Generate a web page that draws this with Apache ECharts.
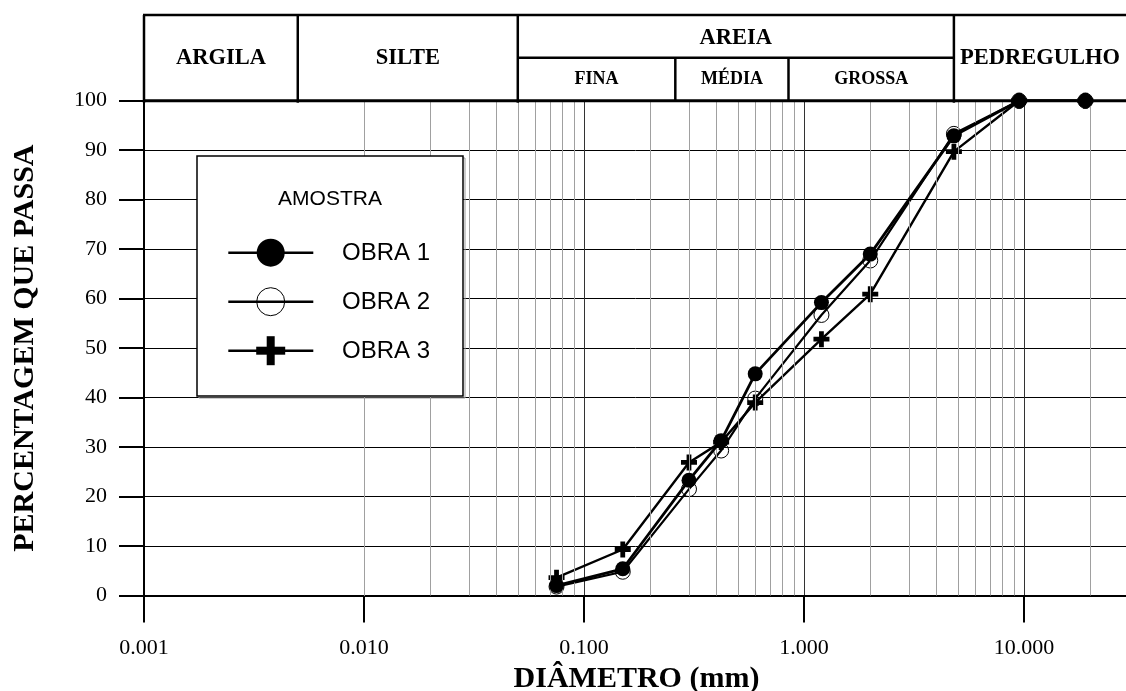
<!DOCTYPE html>
<html><head><meta charset="utf-8">
<script src="https://cdn.jsdelivr.net/npm/echarts@6/dist/echarts.min.js"></script>
<style>html,body{margin:0;padding:0;background:#fff}#c{width:1126px;height:691px}</style>
</head><body><div id="c"></div>
<script>
// ---- data ----
const diameters = [0.075, 0.15, 0.3, 0.42, 0.6, 1.2, 2.0, 4.8, 9.5, 19];
const obra1 = [2.0, 5.4, 23.3, 31.3, 44.8, 59.2, 69.0, 92.9, 100, 100];
const obra2 = [1.8, 4.8, 21.5, 29.3, 39.8, 56.7, 67.7, 93.3, 100, 100];
const obra3 = [3.6, 9.3, 26.9, 31.0, 39.0, 51.8, 60.9, 89.7, 100, 100];
const seriesNames = ['OBRA 1', 'OBRA 2', 'OBRA 3'];
const legendTitle = 'AMOSTRA';
const xDecadeLabels = ['0.001', '0.010', '0.100', '1.000', '10.000'];
const xMinorMultipliers = [2, 3, 4, 5, 6, 7, 8, 9];
const xDecades = [0.001, 0.01, 0.1, 1, 10];
const classNames = ['ARGILA', 'SILTE', 'AREIA', 'PEDREGULHO'];
const classLimits = [0.001, 0.005, 0.05, 4.8, 30];
const sandNames = ['FINA', 'MÉDIA', 'GROSSA'];
const sandLimits = [0.05, 0.26, 0.85, 4.8];
const xTitle = 'DIÂMETRO (mm)';
const yTitle = 'PERCENTAGEM QUE PASSA';

// ---- chart ----
const chart = echarts.init(document.getElementById('c'), null, {renderer: 'canvas'});
const SERIF = '"Liberation Serif","Times New Roman",serif';
const SANS = '"Liberation Sans",Arial,sans-serif';
const plusPath = 'path://M35,0H65V35H100V65H65V100H35V65H0V35H35Z';

const minorLines = [];
xDecades.forEach(d => xMinorMultipliers.forEach(m => {
  const v = d * m;
  if (v < 30) minorLines.push({xAxis: v});
}));

function pts(arr) { return diameters.map((d, i) => [d, arr[i]]); }

const option = {
  animation: false,
  backgroundColor: '#fff',
  grid: {left: 144, top: 100.7, width: 985, height: 494.8, containLabel: false, outerBoundsMode: 'none'},
  xAxis: {
    type: 'log', logBase: 10, min: 0.001, max: 30,
    name: xTitle, nameLocation: 'middle', nameGap: 64,
    nameTextStyle: {fontFamily: SERIF, fontWeight: 'bold', fontSize: 30, color: '#000'},
    axisLine: {show: true, onZero: false, lineStyle: {color: '#000', width: 2}},
    axisTick: {show: true, length: 27, lineStyle: {color: '#000', width: 2}},
    axisLabel: {
      margin: 42, fontFamily: SERIF, fontSize: 22, color: '#000',
      formatter: v => {
        const i = xDecades.findIndex(d => Math.abs(Math.log10(v) - Math.log10(d)) < 1e-6);
        return i >= 0 ? xDecadeLabels[i] : '';
      }
    },
    splitLine: {show: true, lineStyle: {color: '#333', width: 1}},
    minorTick: {show: false}, minorSplitLine: {show: false}
  },
  yAxis: {
    type: 'value', min: 0, max: 100, interval: 10,
    name: yTitle, nameLocation: 'middle', nameGap: 104, nameRotate: 90,
    nameTextStyle: {fontFamily: SERIF, fontWeight: 'bold', fontSize: 30, color: '#000'},
    axisLine: {show: true, lineStyle: {color: '#000', width: 2}},
    axisTick: {show: true, length: 25, lineStyle: {color: '#000', width: 2}},
    axisLabel: {margin: 37, fontFamily: SERIF, fontSize: 22, color: '#000'},
    splitLine: {show: true, lineStyle: {color: '#000', width: 1}}
  },
  series: [
    {
      name: 'minor', type: 'line', data: [], silent: true, z: 1,
      markLine: {
        silent: true, symbol: ['none', 'none'], label: {show: false},
        lineStyle: {color: '#a0a0a0', width: 1, type: 'solid'},
        emphasis: {disabled: true},
        data: minorLines, animation: false
      }
    },
    {
      name: seriesNames[1], type: 'line', data: pts(obra2), z: 3,
      symbol: 'circle', symbolSize: 15,
      lineStyle: {color: '#000', width: 2.2},
      itemStyle: {color: 'rgba(255,255,255,0)', borderColor: '#000', borderWidth: 1}
    },
    {
      name: seriesNames[2], type: 'line', data: pts(obra3), z: 4,
      symbol: plusPath, symbolSize: 16,
      lineStyle: {color: '#000', width: 2.4},
      itemStyle: {color: '#000'}
    },
    {
      name: seriesNames[0], type: 'line', data: pts(obra1), z: 5,
      symbol: 'circle', symbolSize: 15,
      lineStyle: {color: '#000', width: 2.8},
      itemStyle: {color: '#000'}
    }
  ]
};
chart.setOption(option);

// ---- header table and legend (graphic) ----
const W = 1126;
const px = v => Math.min(chart.convertToPixel({xAxisIndex: 0}, v), W);
const topY = 15, midY = 57.7, botY = 100.7;
const g = [];
const lineS = {stroke: '#000', lineWidth: 2.5};
g.push({type: 'line', shape: {x1: px(classLimits[0]) - 1, y1: topY, x2: W, y2: topY}, style: lineS, z: 100});
g.push({type: 'line', shape: {x1: px(classLimits[0]) - 1, y1: botY, x2: W, y2: botY}, style: {stroke: '#000', lineWidth: 3}, z: 100});
g.push({type: 'line', shape: {x1: px(sandLimits[0]), y1: midY, x2: px(sandLimits[sandLimits.length - 1]), y2: midY}, style: lineS, z: 100});
classLimits.forEach((v, i) => {
  if (i === classLimits.length - 1) return;
  const x = px(v);
  g.push({type: 'line', shape: {x1: x, y1: topY, x2: x, y2: botY + 2}, style: lineS, z: 100});
});
sandLimits.forEach((v, i) => {
  if (i === 0 || i === sandLimits.length - 1) return;
  const x = px(v);
  g.push({type: 'line', shape: {x1: x, y1: midY, x2: x, y2: botY}, style: lineS, z: 100});
});
classNames.forEach((n, i) => {
  const x = (px(classLimits[i]) + px(classLimits[i + 1])) / 2;
  const y = n === 'AREIA' ? (topY + midY) / 2 + 2 : (topY + botY) / 2;
  g.push({type: 'text', x: x, y: y, z: 101, style: {text: n, font: 'bold 22.5px ' + SERIF, fill: '#000', align: 'center', verticalAlign: 'middle'}});
});
sandNames.forEach((n, i) => {
  const x = (px(sandLimits[i]) + px(sandLimits[i + 1])) / 2;
  g.push({type: 'text', x: x, y: (midY + botY) / 2 + 0.5, z: 101, style: {text: n, font: 'bold 18px ' + SERIF, fill: '#000', align: 'center', verticalAlign: 'middle'}});
});

// legend box
const LB = {x: 197, y: 156, w: 266, h: 240};
g.push({type: 'rect', shape: {x: LB.x + 2, y: LB.y + 2, width: LB.w, height: LB.h}, style: {fill: 'none', stroke: '#999', lineWidth: 1}, z: 110});
g.push({type: 'rect', shape: {x: LB.x, y: LB.y, width: LB.w, height: LB.h}, style: {fill: '#fff', stroke: '#000', lineWidth: 1.5}, z: 111});
g.push({type: 'text', x: 330, y: 199.5, z: 112, style: {text: legendTitle, font: '21px ' + SANS, fill: '#000', align: 'center', verticalAlign: 'middle'}});
const rowsY = [252.7, 301.7, 350.7];
const mx = 270.7;
rowsY.forEach((ry, i) => {
  g.push({type: 'line', shape: {x1: 228.3, y1: ry, x2: 313.3, y2: ry}, style: {stroke: '#000', lineWidth: 2.5}, z: 112});
  if (i === 0) {
    g.push({type: 'circle', shape: {cx: mx, cy: ry, r: 14}, style: {fill: '#000'}, z: 113});
  } else if (i === 1) {
    g.push({type: 'circle', shape: {cx: mx, cy: ry, r: 14}, style: {fill: 'none', stroke: '#000', lineWidth: 1}, z: 113});
  } else {
    g.push({type: 'rect', shape: {x: mx - 14.5, y: ry - 4, width: 29, height: 8}, style: {fill: '#000'}, z: 113});
    g.push({type: 'rect', shape: {x: mx - 4, y: ry - 14.5, width: 8, height: 29}, style: {fill: '#000'}, z: 113});
  }
  g.push({type: 'text', x: 342, y: ry + 1, z: 113, style: {text: seriesNames[i], font: '24px ' + SANS, fill: '#000', align: 'left', verticalAlign: 'middle'}});
});

chart.setOption({graphic: {elements: g}});
</script>
</body></html>
